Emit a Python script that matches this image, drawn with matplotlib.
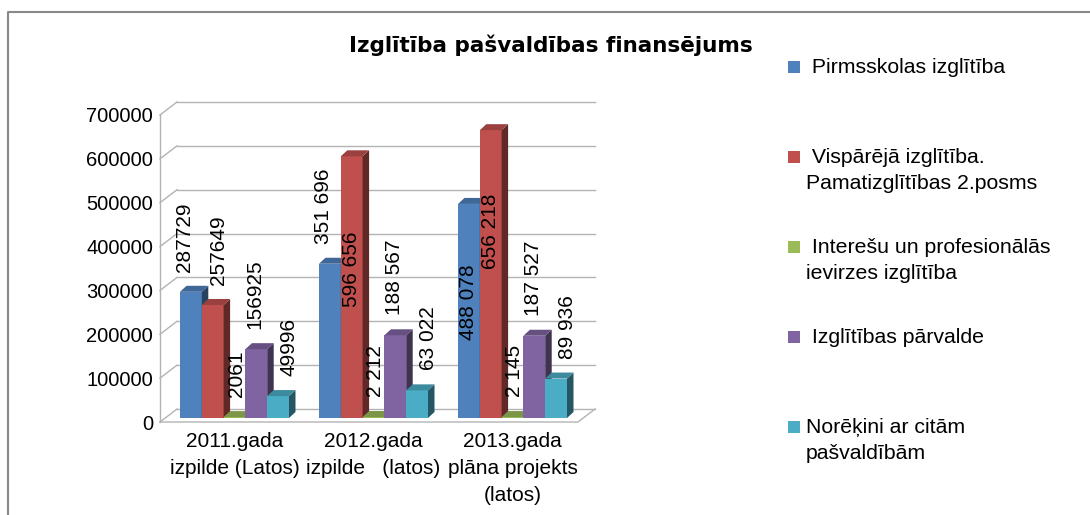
import matplotlib.pyplot as plt
import numpy as np
from matplotlib.colors import to_rgb
from matplotlib.lines import Line2D
from matplotlib.patches import Polygon, Rectangle

plt.rcParams["font.family"] = ["Liberation Sans", "DejaVu Sans"]

TITLE = "Izglītība pašvaldības finansējums"
CATEGORIES = [
    "2011.gada\nizpilde (Latos)",
    "2012.gada\nizpilde   (latos)",
    "2013.gada\nplāna projekts\n(latos)",
]
SERIES = [
    " Pirmsskolas izglītība",
    " Vispārējā izglītība.\nPamatizglītības 2.posms",
    " Interešu un profesionālās\nievirzes izglītība",
    " Izglītības pārvalde",
    "Norēķini ar citām\npašvaldībām",
]
PIRMSSKOLAS = [287729, 351696, 488078]
VISPAREJA = [257649, 596656, 656218]
INTERESU = [2061, 2212, 2145]
PARVALDE = [156925, 188567, 187527]
NOREKINI = [49996, 63022, 89936]
# 2011 labels are printed without the thousands space
SPACED_LABELS = [False, True, True]
COLORS = ["#4f81bd", "#c0504d", "#9bbb59", "#8064a2", "#4bacc6"]
Y_TICKS = np.arange(0, 700001, 100000)

# labels that sit inside the bar: (group, series) -> fraction of bar height
INSIDE_LABELS = {(1, 1): 0.57, (2, 0): 0.54, (2, 1): 0.65}
# sideways nudge of the value labels per series, in pixels
LABEL_SHIFT_PX = [-6, 6, 2, -1, 11]

W, H = 1090, 515
PX_X = 1 / 139          # data units per pixel, x
PX_Y = 100000 / 43.86   # data units per pixel, y
GRID = "#b3b3b3"


def shade(color, k):
    return tuple(c * k for c in to_rgb(color))


def draw_bar(ax, xc, width, base, height, color, depth_x, depth_y):
    x0, x1 = xc - width / 2, xc + width / 2
    top = base + height
    ax.add_patch(Rectangle((x0, base), width, height, facecolor=color,
                           edgecolor="none", zorder=3))
    ax.add_patch(Polygon([(x1, base), (x1 + depth_x, base + depth_y),
                          (x1 + depth_x, top + depth_y), (x1, top)],
                         closed=True, facecolor=shade(color, 0.5),
                         edgecolor="none", zorder=3))
    ax.add_patch(Polygon([(x0, top), (x0 + depth_x, top + depth_y),
                          (x1 + depth_x, top + depth_y), (x1, top)],
                         closed=True, facecolor=shade(color, 0.8),
                         edgecolor="none", zorder=3))


def main() -> None:
    fig = plt.figure(figsize=(W / 100, H / 100), dpi=100)
    ax = fig.add_axes([160 / W, (H - 422) / H, 435 / W, 320 / H])
    x_lo, x_hi = -74.5 * PX_X, 360.5 * PX_X
    ax.set_xlim(x_lo, x_hi)
    ax.set_ylim(0, 320 * PX_Y)

    wall_dx, wall_dy = 17 * PX_X, 13 * PX_Y
    for v in Y_TICKS:
        ax.plot([x_lo, x_lo + wall_dx], [v, v + wall_dy], color=GRID, lw=1,
                zorder=1, clip_on=False)
        ax.plot([x_lo + wall_dx, x_hi], [v + wall_dy, v + wall_dy],
                color=GRID, lw=1, zorder=1, clip_on=False)
    ax.plot([x_lo, x_lo], [0, Y_TICKS[-1]], color=GRID, lw=1, zorder=1,
            clip_on=False)
    ax.plot([x_lo, x_hi - wall_dx, x_hi], [0, 0, wall_dy], color=GRID, lw=1,
            zorder=1, clip_on=False)

    series = [PIRMSSKOLAS, VISPAREJA, INTERESU, PARVALDE, NOREKINI]
    bw = 21.8 * PX_X
    base = 4 * PX_Y
    bar_dx, bar_dy = 6.5 * PX_X, 6 * PX_Y
    for g in range(len(CATEGORIES)):
        for i, (values, color) in enumerate(zip(series, COLORS)):
            xc = g + (i - 2) * bw
            v = values[g]
            draw_bar(ax, xc, bw, base, v, color, bar_dx, bar_dy)
            text = f"{v:,}".replace(",", " " if SPACED_LABELS[g] else "")
            if (g, i) in INSIDE_LABELS:
                ax.text(xc, base + v * INSIDE_LABELS[(g, i)], text,
                        rotation=90, ha="center", va="center", fontsize=15,
                        zorder=5)
            else:
                ax.text(xc + LABEL_SHIFT_PX[i] * PX_X, base + v + 20 * PX_Y,
                        text, rotation=90, ha="center", va="bottom",
                        fontsize=15, zorder=5)

    ax.set_yticks(Y_TICKS)
    ax.set_yticklabels([str(v) for v in Y_TICKS], fontsize=14.5)
    ax.set_xticks(range(len(CATEGORIES)))
    ax.set_xticklabels(CATEGORIES, fontsize=15, linespacing=1.55)
    ax.tick_params(axis="y", length=0, pad=5)
    ax.tick_params(axis="x", length=0, pad=7)
    for spine in ax.spines.values():
        spine.set_visible(False)
    ax.patch.set_alpha(0)

    fig.text(551 / W, 1 - 45 / H, TITLE, ha="center", va="center",
             fontsize=15.5, fontweight="bold", family="DejaVu Sans")

    for i, (name, color) in enumerate(zip(SERIES, COLORS)):
        y_px = 67 + i * 90
        fig.patches.append(Rectangle((788 / W, 1 - (y_px + 6) / H), 12 / W,
                                     12 / H, facecolor=color, edgecolor="none",
                                     transform=fig.transFigure, figure=fig))
        fig.text(806 / W, 1 - (y_px - 9) / H, name, ha="left", va="top",
                 fontsize=15.3, linespacing=1.45)

    fig.add_artist(Line2D([7.5 / W, 7.5 / W, 1], [0, 1 - 12 / H, 1 - 12 / H],
                          color="#888888", lw=1.5, transform=fig.transFigure))

    fig.savefig("out.png", dpi=100)


if __name__ == "__main__":
    main()
